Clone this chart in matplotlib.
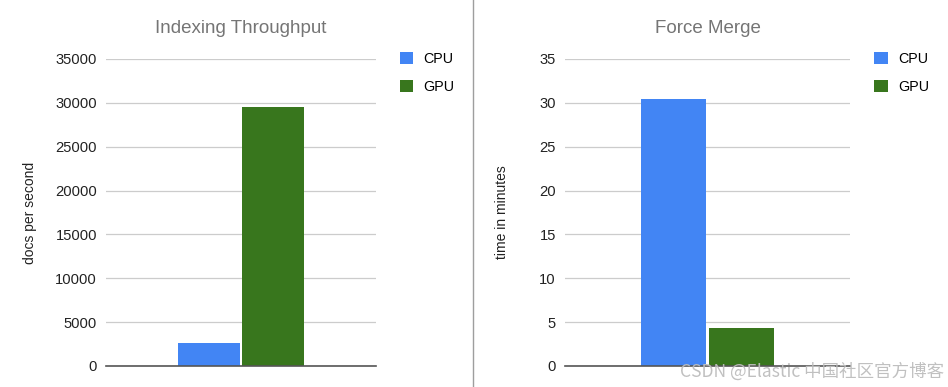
import matplotlib
matplotlib.use("Agg")
import matplotlib.pyplot as plt
from matplotlib.lines import Line2D

plt.rcParams['font.family'] = ['Liberation Sans', 'DejaVu Sans']

series = ["CPU", "GPU"]
colors = ["#4285F4", "#38761D"]

indexing_values = [2600, 29500]
indexing_ticks = [0, 5000, 10000, 15000, 20000, 25000, 30000, 35000]

merge_values = [30.4, 4.3]
merge_ticks = [0, 5, 10, 15, 20, 25, 30, 35]

fig = plt.figure(figsize=(9.48, 3.87), dpi=100)

def draw(ax, values, ticks, title, ylabel, label_x):
    offsets = [-0.12, 0.12]
    for off, v, c, s in zip(offsets, values, colors, series):
        ax.bar(off, v, width=0.23, color=c, label=s, zorder=3)
    ax.set_xlim(-0.5, 0.5)
    ax.set_ylim(ticks[0], ticks[-1])
    ax.set_yticks(ticks)
    ax.set_yticklabels([str(t) for t in ticks], fontsize=10.6, color='#222222')
    ax.set_xticks([])
    ax.grid(axis='y', color='#cccccc', linewidth=0.9, zorder=0)
    for sp in ['top', 'right', 'left']:
        ax.spines[sp].set_visible(False)
    ax.spines['bottom'].set_color('#555555')
    ax.spines['bottom'].set_linewidth(1.2)
    ax.spines['bottom'].set_zorder(4)
    ax.tick_params(axis='y', length=0, pad=6.5)
    ax.set_title(title, fontsize=13.5, color='#757575', pad=19)
    ax.set_ylabel(ylabel, fontsize=10, color='#222222')
    ax.yaxis.set_label_coords(label_x, 0.5)
    ax.legend(loc='upper left', bbox_to_anchor=(1.04, 1.065), frameon=False,
              handlelength=0.95, handleheight=0.95, handletextpad=0.7,
              labelspacing=0.95, fontsize=10.3)

ax1 = fig.add_axes([0.1118, 0.0543, 0.2848, 0.7933])
draw(ax1, indexing_values, indexing_ticks, "Indexing Throughput", "docs per second", -0.256)

ax2 = fig.add_axes([0.596, 0.0543, 0.3006, 0.7933])
draw(ax2, merge_values, merge_ticks, "Force Merge", "time in minutes", -0.196)

fig.add_artist(Line2D([0.4985, 0.4985], [0, 1], transform=fig.transFigure,
                      color='#9e9e9e', linewidth=1))

fig.text(0.996, 0.04, "CSDN @Elastic 中国社区官方博客", ha='right', va='center',
         fontsize=12.6, color='#bdbdbd', alpha=0.95,
         family=['Noto Sans CJK SC', 'DejaVu Sans'])

fig.savefig("out.png", dpi=100)
